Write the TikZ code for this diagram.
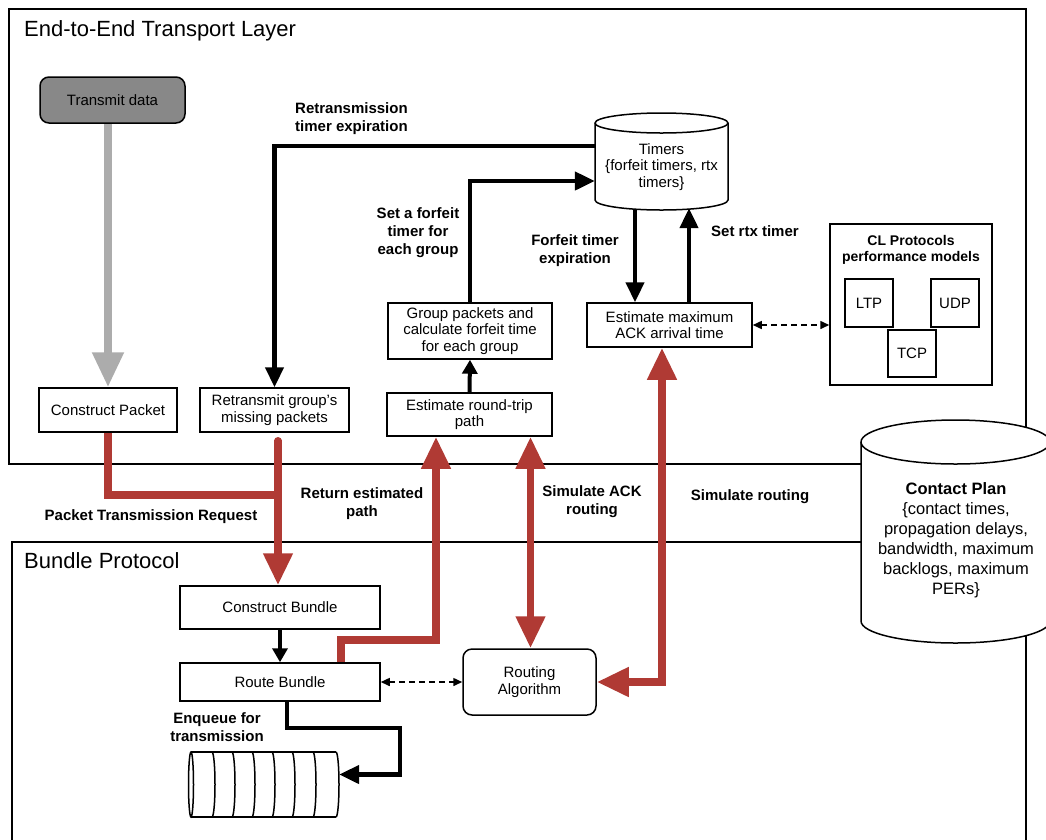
\documentclass[tikz,border=0pt]{standalone}
\usepackage{fontspec}
\setmainfont{Liberation Sans}
\usetikzlibrary{arrows.meta}
\definecolor{flowred}{RGB}{176,58,52}
\definecolor{datagray}{RGB}{136,136,136}
\definecolor{pipegray}{RGB}{172,172,172}
\tikzset{
  redtip/.tip={Triangle[length=32pt,width=28pt]},
  dashtip/.tip={Triangle[length=9pt,width=8pt]},
}
\begin{document}
\begin{tikzpicture}[x=1pt,y=-1pt,
  frame/.style={draw, line width=1.5pt},
  box/.style={draw, line width=1.5pt, fill=white, inner sep=0pt, align=center,
    font=\fontsize{15}{16.5}\selectfont},
  rbox/.style={box, rounded corners=9pt},
  area/.style={inner sep=0pt},
  txt/.style={inner sep=0pt, align=center, font=\fontsize{15}{16.5}\selectfont},
  lbl/.style={inner sep=0pt, align=center, font=\fontsize{15}{18}\selectfont\bfseries},
  title/.style={inner sep=0pt, anchor=west, font=\fontsize{22}{26}\selectfont},
  outline/.style={line width=1.5pt},
  blk/.style={line width=4.5pt, -{Triangle[length=20pt,width=18pt]}},
  blks/.style={line width=4pt, -{Triangle[length=14pt,width=15pt]}},
  redflow/.style={draw=flowred, line width=7.5pt},
  dashlink/.style={line width=1.5pt, dash pattern=on 6pt off 4pt, dashtip-dashtip},
]
\useasboundingbox (0,0) rectangle (1046,839);

% layer frames
\draw[frame] (9,9) rectangle (1026,464);
\draw[frame] (12,850) -- (12,542) -- (1026,542) -- (1026,850);
\node[title] (tl) at (24,31) {End-to-End Transport Layer};
\node[title] (bp) at (24,561) {Bundle Protocol};

% contact plan store
\draw[outline, fill=white] (861,442) -- (861,621)
  arc[start angle=180, end angle=360, x radius=94.5pt, y radius=22pt]
  -- (1050,442)
  arc[start angle=0, end angle=180, x radius=94.5pt, y radius=22pt] -- cycle;
\draw[outline] (861,442) arc[start angle=180, end angle=360, x radius=94.5pt, y radius=22pt];
\node[txt, font=\fontsize{16.5}{20}\selectfont] (cpl) at (956,540)
  {\textbf{Contact Plan}\\\{contact times,\\propagation delays,\\bandwidth, maximum\\backlogs, maximum\\PERs\}};

% timers store
\node[area, minimum width=133pt, minimum height=97pt] (tm) at (661.5,161.5) {};
\draw[outline, fill=white] (595,123) -- (595,200)
  arc[start angle=180, end angle=360, x radius=66.5pt, y radius=10pt]
  -- (728,123)
  arc[start angle=0, end angle=180, x radius=66.5pt, y radius=10pt] -- cycle;
\draw[outline] (595,123) arc[start angle=180, end angle=360, x radius=66.5pt, y radius=10pt];
\node[txt] (tmt) at (661.5,167) {Timers\\\{forfeit timers, rtx\\timers\}};

% transport layer steps
\node[rbox, fill=datagray, minimum width=145pt, minimum height=46pt] (td) at (112.5,100) {Transmit data};
\node[box, minimum width=138pt, minimum height=44pt] (cp) at (108,410) {Construct Packet};
\node[box, minimum width=149pt, minimum height=44pt] (rgm) at (274.5,410) {Retransmit group’s\\missing packets};
\node[box, minimum width=165pt, minimum height=43pt] (rt) at (469.5,414.5) {Estimate round-trip\\path};
\node[box, minimum width=164pt, minimum height=56pt] (gp) at (470,331) {Group packets and\\calculate forfeit time\\for each group};
\node[box, minimum width=165pt, minimum height=44pt] (ack) at (669.5,325) {Estimate maximum\\ACK arrival time};

% convergence layer models
\node[box, minimum width=162pt, minimum height=161pt] (cl) at (911,304.5) {};
\node[lbl, font=\fontsize{14}{16}\selectfont\bfseries] (clt) at (911,250) {CL Protocols\\performance models};
\node[box, minimum width=48pt, minimum height=48pt] (ltp) at (869,303) {LTP};
\node[box, minimum width=48pt, minimum height=48pt] (udp) at (955,303) {UDP};
\node[box, minimum width=48pt, minimum height=47pt] (tcp) at (912,353.5) {TCP};

% bundle protocol steps
\node[box, minimum width=200pt, minimum height=43pt] (cb) at (280,607.5) {Construct Bundle};
\node[box, minimum width=200pt, minimum height=38pt] (rb) at (280,682) {Route Bundle};
\node[rbox, minimum width=133pt, minimum height=66pt] (ra) at (529.5,682) {Routing\\Algorithm};

% transmission queue
\node[area, minimum width=151pt, minimum height=65pt] (qu) at (263.5,784.5) {};
\draw[outline] (191,752) -- (336,752) (191,817) -- (336,817);
\draw[outline] (191,784.5) ellipse[x radius=2.5pt, y radius=32.5pt];
\foreach \qx in {212,232,252,272,292,313,336}
  \draw[outline] (\qx,752) arc[start angle=90, end angle=-90, x radius=3pt, y radius=32.5pt];

% data flow
\draw[draw=pipegray, line width=8pt, -{Triangle[length=35pt,width=30pt]}]
  (td.south -| cp.north) -- (cp.north);

\coordinate (j) at (278,495);
\draw[redflow, line join=miter] (cp.south) |- (j);
\coordinate (rgs) at ([yshift=-8pt]rgm.south);
\draw[redflow, line cap=round, -redtip] (rgs -| j) -- (j |- cb.north);

\coordinate (k) at (436,640);
\draw[redflow, -redtip] ([xshift=61pt]rb.north) |- (k) -- (k |- rt.south);
\draw[redflow, redtip-redtip] ([xshift=61pt]rt.south) -- ([xshift=1pt]ra.north);
\draw[redflow, redtip-redtip] ([xshift=-7.5pt]ack.south) |- (ra.east);

\draw[blk] ([yshift=15.5pt]tm.west) -| (rgm.north);
\draw[blk] (gp.north) |- ([yshift=-19.5pt]tm.west);
\coordinate (tma) at ([xshift=-26.5pt]tm.south);
\coordinate (tmb) at ([xshift=27.5pt,yshift=2pt]tm.south);
\draw[blk] (tma) -- (tma |- ack.north);
\draw[blk] (tmb |- ack.north) -- (tmb);
\draw[blks] (rt.north) -- (gp.south);
\draw[blks] (cb.south) -- (rb.north);

\coordinate (q1) at (400,728);
\coordinate (qe) at ([yshift=10pt]qu.east);
\draw[blk] ([xshift=7pt]rb.south) |- (q1) |- (qe);

\draw[dashlink] (ack.east) -- (ack.east -| cl.west);
\draw[dashlink] (rb.east) -- (ra.west);

% flow labels
\node[lbl, align=left, anchor=west] (l1) at (295,119) {Retransmission\\timer expiration};
\node[lbl] (l2) at (418,233) {Set a forfeit\\timer for\\each group};
\node[lbl] (l3) at (575,251) {Forfeit timer\\expiration};
\node[lbl] (l4) at (755,231) {Set rtx timer};
\node[lbl] (l5) at (151,517) {Packet Transmission Request};
\node[lbl] (l6) at (362,504) {Return estimated\\path};
\node[lbl] (l7) at (592,502) {Simulate ACK\\routing};
\node[lbl] (l8) at (750,497) {Simulate routing};
\node[lbl] (l9) at (217,727) {Enqueue for\\transmission};
\end{tikzpicture}
\end{document}
